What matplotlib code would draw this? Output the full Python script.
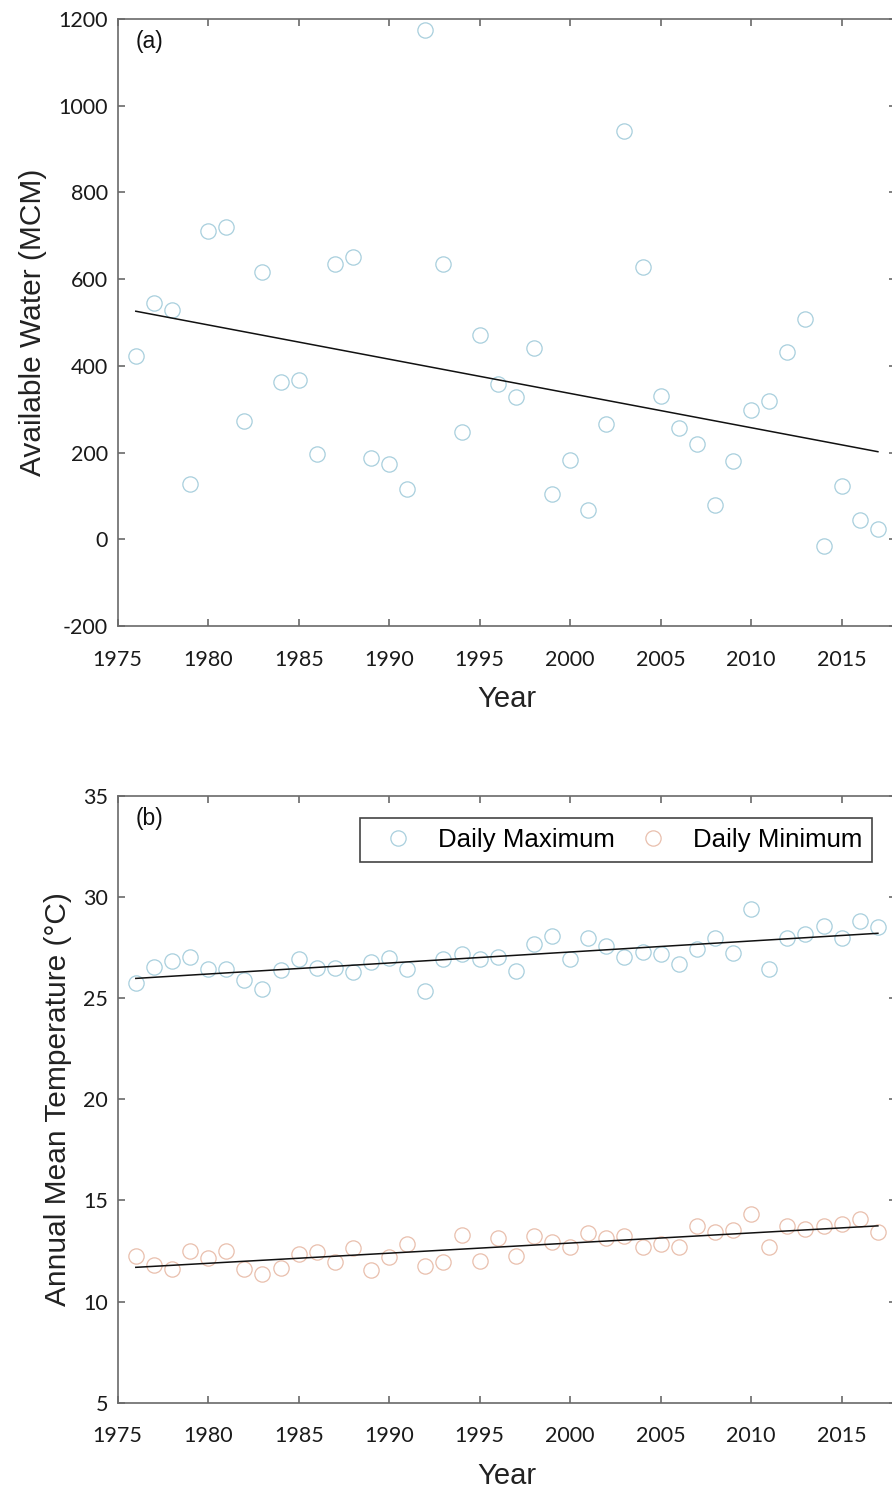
import matplotlib
matplotlib.use("Agg")
import matplotlib.pyplot as plt
import numpy as np

plt.rcParams['axes.unicode_minus'] = False

years = list(range(1976, 2018))

available_water = [423, 545, 528, 128, 711, 720, 273, 616, 363, 367,
                   196, 636, 651, 187, 173, 115, 1175, 634, 248, 472,
                   358, 328, 441, 104, 183, 68, 266, 941, 628, 331,
                   256, 219, 78, 180, 298, 320, 431, 508, -15, 124,
                   44, 24]
water_trend_years = [1976, 2017]
water_trend = [526, 202]

tmax = [25.73, 26.55, 26.83, 27.01, 26.42, 26.44, 25.87, 25.43, 26.37, 26.93,
        26.47, 26.50, 26.27, 26.79, 26.98, 26.45, 25.36, 26.93, 27.17, 26.92,
        27.01, 26.34, 27.67, 28.05, 26.92, 27.98, 27.59, 27.04, 27.26, 27.16,
        26.67, 27.42, 27.95, 27.24, 29.38, 26.43, 27.95, 28.18, 28.56, 27.95,
        28.82, 28.49]
tmin = [12.25, 11.80, 11.59, 12.51, 12.15, 12.49, 11.62, 11.37, 11.67, 12.36,
        12.44, 11.96, 12.66, 11.57, 12.20, 12.85, 11.75, 11.95, 13.28, 12.01,
        13.12, 12.23, 13.23, 12.95, 12.68, 13.37, 13.12, 13.25, 12.69, 12.85,
        12.71, 13.73, 13.42, 13.53, 14.31, 12.71, 13.72, 13.57, 13.74, 13.81,
        14.08, 13.42]
temp_trend_years = [1976, 2017]
tmax_trend = [25.97, 28.2]
tmin_trend = [11.69, 13.74]

xticks = [1975, 1980, 1985, 1990, 1995, 2000, 2005, 2010, 2015]
yticks_a = [-200, 0, 200, 400, 600, 800, 1000, 1200]
yticks_b = [5, 10, 15, 20, 25, 30, 35]

BLUE = '#a8cfdd'
SALMON = '#e9bfad'
SPINE = '#6a6a6a'
LABEL_FONT = 'Liberation Sans'
TICK_FONT = 'Lato'

W, H = 892, 1491
fig = plt.figure(figsize=(W / 100, H / 100), dpi=100)

left = 117.7 / W
width = 778.3 / W
height = 607 / H
ax_a = fig.add_axes([left, (H - 626) / H, width, height])
ax_b = fig.add_axes([left, (H - 1402.7) / H, width, height])

mk = dict(linestyle='none', marker='o', markersize=11, markerfacecolor='none',
          markeredgewidth=0.9)

def style(ax, yticks, ylim):
    ax.set_xlim(1975, 2018)
    ax.set_ylim(*ylim)
    ax.set_xticks(xticks)
    ax.set_yticks(yticks)
    for s in ax.spines.values():
        s.set_color(SPINE)
        s.set_linewidth(1.2)
    ax.tick_params(direction='in', length=5, width=1.2, color=SPINE,
                   top=True, right=True, labelsize=15.5, labelcolor='#1a1a1a')
    ax.tick_params(axis='x', pad=17)
    ax.tick_params(axis='y', pad=7)
    for lab in ax.get_xticklabels() + ax.get_yticklabels():
        lab.set_fontfamily(TICK_FONT)
    ax.set_xlabel('Year', fontsize=21, family=LABEL_FONT, color='#222222', labelpad=11)

# Panel (a)
ax_a.plot(years, available_water, color=BLUE, **mk)
ax_a.plot(water_trend_years, water_trend, color='#111111', linewidth=1.1)
style(ax_a, yticks_a, (-200, 1200))
ax_a.set_ylabel('Available Water (MCM)', fontsize=21.5, family=LABEL_FONT,
                color='#222222', labelpad=8)
ax_a.text(0.023, 0.963, '(a)', transform=ax_a.transAxes, fontsize=16.5,
          family=LABEL_FONT, va='center', ha='left', color='#111111')

# Panel (b)
l1, = ax_b.plot(years, tmax, color=BLUE, label='Daily Maximum', **mk)
l2, = ax_b.plot(years, tmin, color=SALMON, label='Daily Minimum', **mk)
ax_b.plot(temp_trend_years, tmax_trend, color='#111111', linewidth=1.1)
ax_b.plot(temp_trend_years, tmin_trend, color='#111111', linewidth=1.1)
style(ax_b, yticks_b, (5, 35))
ax_b.set_ylabel('Annual Mean Temperature (°C)', fontsize=21.5, family=LABEL_FONT,
                color='#222222', labelpad=8)
ax_b.text(0.023, 0.963, '(b)', transform=ax_b.transAxes, fontsize=16.5,
          family=LABEL_FONT, va='center', ha='left', color='#111111')

leg = ax_b.legend(handles=[l1, l2], loc='upper right',
                  bbox_to_anchor=((872 - 117.7) / 778.3, (1402.7 - 818) / 607),
                  ncol=2, fancybox=False, framealpha=1, edgecolor='#444444',
                  prop={'family': LABEL_FONT, 'size': 18.6},
                  borderpad=0.38, handlelength=2.2, handletextpad=0.45,
                  columnspacing=0.35, borderaxespad=0)
leg.get_frame().set_linewidth(1.2)

fig.savefig('out.png', dpi=100)
